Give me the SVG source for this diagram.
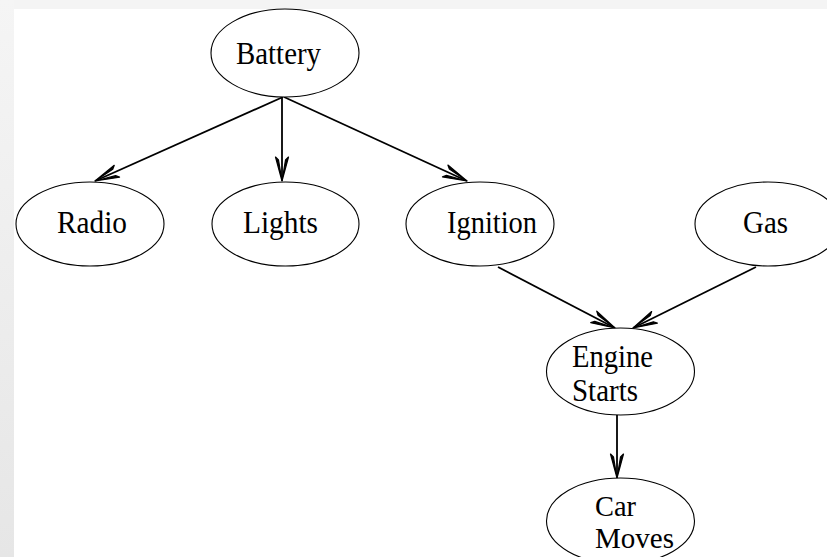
<svg xmlns="http://www.w3.org/2000/svg" width="827" height="557" viewBox="0 0 827 557">
  <defs>
    <linearGradient id="edgeShade" x1="0" y1="0" x2="0" y2="1">
      <stop offset="0" stop-color="#f5f5f5"/>
      <stop offset="1" stop-color="#e6e6e6"/>
    </linearGradient>
    <marker id="barb" viewBox="-26 -8 28 16" refX="0" refY="0" markerWidth="28" markerHeight="16" markerUnits="userSpaceOnUse" orient="auto">
      <path d="M0,0 L-24,-6.5 L-21,-3.5 Z M0,0 L-24,6.5 L-21,3.5 Z" fill="#000" stroke="#000" stroke-width="1.2" stroke-linejoin="round"/>
    </marker>
    <style>
      .node ellipse { fill: #fff; stroke: #000; stroke-width: 1.1; }
      .node text { font-family: "Liberation Serif", "Times New Roman", serif; font-size: 32px; fill: #000; }
      #car-moves text { font-size: 29px; }
      .edges line { stroke: #000; stroke-width: 1.8; marker-end: url(#barb); }
    </style>
  </defs>

  <!-- page backdrop -->
  <rect x="0" y="0" width="827" height="557" fill="#f4f4f4"/>
  <rect x="0" y="0" width="14" height="557" fill="url(#edgeShade)"/>
  <rect x="14" y="9" width="813" height="548" fill="#fff"/>

  <g class="edges">
    <line x1="283" y1="97" x2="95" y2="181"/>
    <line x1="282" y1="97" x2="282" y2="181"/>
    <line x1="284" y1="97" x2="467" y2="181"/>
    <line x1="498" y1="267" x2="615" y2="328"/>
    <line x1="756" y1="267" x2="633" y2="328"/>
    <line x1="617" y1="415" x2="617" y2="478"/>
  </g>

  <g id="battery" class="node">
    <ellipse cx="285" cy="53" rx="74" ry="44"/>
    <text x="236" y="64" textLength="85" lengthAdjust="spacingAndGlyphs">Battery</text>
  </g>
  <g id="radio" class="node">
    <ellipse cx="90" cy="224" rx="74" ry="42"/>
    <text x="57" y="233" textLength="70" lengthAdjust="spacingAndGlyphs">Radio</text>
  </g>
  <g id="lights" class="node">
    <ellipse cx="285.5" cy="224" rx="73.5" ry="42"/>
    <text x="243" y="233" textLength="75" lengthAdjust="spacingAndGlyphs">Lights</text>
  </g>
  <g id="ignition" class="node">
    <ellipse cx="480" cy="224" rx="74" ry="42"/>
    <text x="447" y="233" textLength="90" lengthAdjust="spacingAndGlyphs">Ignition</text>
  </g>
  <g id="gas" class="node">
    <ellipse cx="768" cy="224" rx="73" ry="42"/>
    <text x="743" y="233" textLength="45" lengthAdjust="spacingAndGlyphs">Gas</text>
  </g>
  <g id="engine-starts" class="node">
    <ellipse cx="620.5" cy="371.5" rx="74" ry="43.5"/>
    <text x="572" y="367" textLength="81" lengthAdjust="spacingAndGlyphs">Engine</text>
    <text x="572" y="401" textLength="66" lengthAdjust="spacingAndGlyphs">Starts</text>
  </g>
  <g id="car-moves" class="node">
    <ellipse cx="620.5" cy="521" rx="74" ry="43"/>
    <text x="595" y="516" textLength="41" lengthAdjust="spacingAndGlyphs">Car</text>
    <text x="595" y="548" textLength="79" lengthAdjust="spacingAndGlyphs">Moves</text>
  </g>
</svg>
